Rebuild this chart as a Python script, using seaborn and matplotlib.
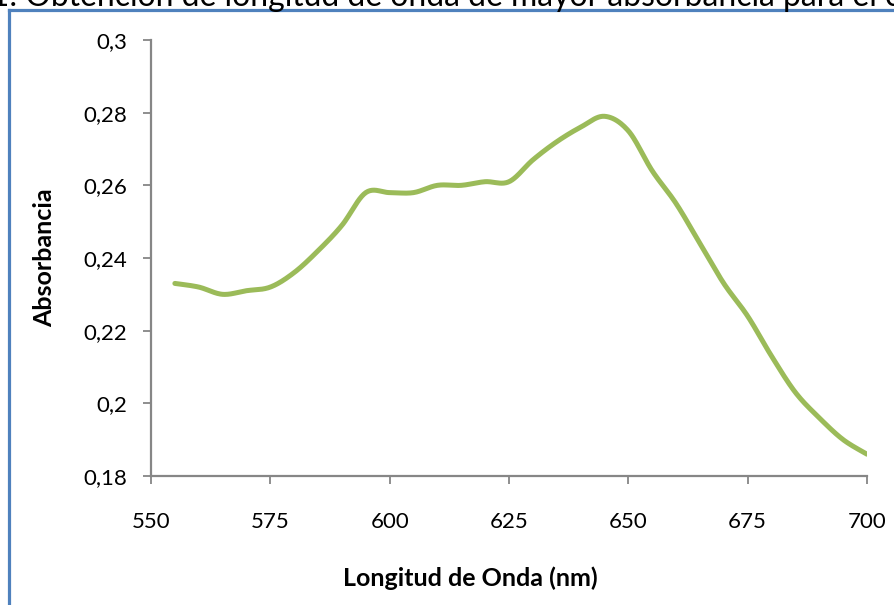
import numpy as np
import pandas as pd
import seaborn as sns
import matplotlib
matplotlib.use("Agg")
import matplotlib.pyplot as plt
from matplotlib.lines import Line2D
from matplotlib.ticker import FuncFormatter

# Absorbance spectrum (wavelength in nm)
longitud_onda = [555, 560, 565, 570, 575, 580, 585, 590, 595, 600, 605, 610, 615,
                 620, 625, 630, 635, 640, 645, 650, 655, 660, 665, 670, 675, 680,
                 685, 690, 695, 700]
absorbancia = [0.233, 0.232, 0.230, 0.231, 0.232, 0.236, 0.242, 0.249, 0.258, 0.258,
               0.258, 0.260, 0.260, 0.261, 0.261, 0.267, 0.272, 0.276, 0.279, 0.275,
               0.264, 0.255, 0.244, 0.233, 0.224, 0.213, 0.203, 0.196, 0.190, 0.186]

x_ticks = [550, 575, 600, 625, 650, 675, 700]
y_ticks = [0.18, 0.20, 0.22, 0.24, 0.26, 0.28, 0.30]

titulo_prefijo = "Gráfica 1: "
titulo = "Obtención de longitud de onda de mayor absorbancia para el colorante"
x_label = "Longitud de Onda (nm)"
y_label = "Absorbancia"

LINE_COLOR = "#9BBB59"
AXIS_COLOR = "#868686"
FRAME_COLOR = "#4F81BD"


def smooth_curve(x, y, steps=24):
    """Bezier smoothing through every point (spreadsheet-style smoothed line)."""
    p = np.column_stack([x, y]).astype(float)
    ext = np.vstack([p[0], p, p[-1]])
    out = [p[0]]
    t = np.linspace(0, 1, steps)[1:, None]
    for i in range(len(p) - 1):
        p0, p1 = ext[i + 1], ext[i + 2]
        c1 = p0 + (ext[i + 2] - ext[i]) / 6.0
        c2 = p1 - (ext[i + 3] - ext[i + 1]) / 6.0
        seg = ((1 - t) ** 3) * p0 + 3 * ((1 - t) ** 2) * t * c1 + 3 * (1 - t) * t ** 2 * c2 + t ** 3 * p1
        out.extend(seg)
    out = np.array(out)
    return out[:, 0], out[:, 1]


sns.set_theme(style="white")
plt.rcParams["font.family"] = ["Lato", "DejaVu Sans"]

W, H = 895, 605
fig = plt.figure(figsize=(W / 100, H / 100), dpi=100)
fig.patch.set_facecolor("white")

# plot area in pixels
left, right, top, bottom = 151, 867, 40, 476
ax = fig.add_axes([left / W, 1 - bottom / H, (right - left) / W, (bottom - top) / H])

xs, ys = smooth_curve(longitud_onda, absorbancia)
curve = pd.DataFrame({"Longitud de onda": xs, "Absorbancia": ys})
sns.lineplot(data=curve, x="Longitud de onda", y="Absorbancia", sort=False,
             estimator=None, color=LINE_COLOR, linewidth=3.6, ax=ax)
ax.lines[-1].set_solid_capstyle("round")

ax.set_xlim(550, 700)
ax.set_ylim(0.18, 0.30)
ax.set_xticks(x_ticks)
ax.set_yticks(y_ticks)
ax.yaxis.set_major_formatter(FuncFormatter(lambda v, _: f"{v:.2f}".rstrip("0").replace(".", ",")))
ax.xaxis.set_major_formatter(FuncFormatter(lambda v, _: f"{v:.0f}"))

for side in ["top", "right"]:
    ax.spines[side].set_visible(False)
for side in ["left", "bottom"]:
    ax.spines[side].set_color(AXIS_COLOR)
    ax.spines[side].set_linewidth(1.6)

ax.tick_params(axis="y", direction="out", length=6, width=1.3, color=AXIS_COLOR,
               labelsize=16, labelcolor="black", pad=11, left=True)
ax.tick_params(axis="x", direction="out", length=6, width=1.3, color=AXIS_COLOR,
               labelsize=16, labelcolor="black", pad=20, bottom=True)
ax.grid(False)

ax.set_xlabel(x_label, fontsize=18, fontweight="bold", color="black", va="center")
ax.set_ylabel(y_label, fontsize=18, fontweight="bold", color="black", va="center")
ax.xaxis.set_label_coords((470 - left) / (right - left), -(578 - bottom) / (bottom - top))
ax.yaxis.set_label_coords((45 - left) / (right - left), 0.5)

# caption above the frame, partly outside the canvas
renderer = fig.canvas.get_renderer()
probe = fig.text(0, 0, titulo.rsplit(" colorante", 1)[0], fontsize=10)
w10 = probe.get_window_extent(renderer).width
probe.remove()
title_size = 10 * 855 / w10
probe = fig.text(0, 0, titulo_prefijo, fontsize=title_size)
wpre = probe.get_window_extent(renderer).width
probe.remove()
fig.text((25 - wpre) / W, 1 - 5.5 / H, titulo_prefijo + titulo, fontsize=title_size,
         ha="left", va="baseline", color="black")

# blue border around the chart object
fx, fy = 8.7, 9.5
fig.add_artist(Line2D([fx / W, fx / W], [1 - fy / H, 0], transform=fig.transFigure,
                      color=FRAME_COLOR, linewidth=2.3, solid_capstyle="projecting"))
fig.add_artist(Line2D([fx / W, 1.0], [1 - fy / H, 1 - fy / H], transform=fig.transFigure,
                      color=FRAME_COLOR, linewidth=2.3, solid_capstyle="projecting"))

fig.savefig("out.png", dpi=100, facecolor="white")
